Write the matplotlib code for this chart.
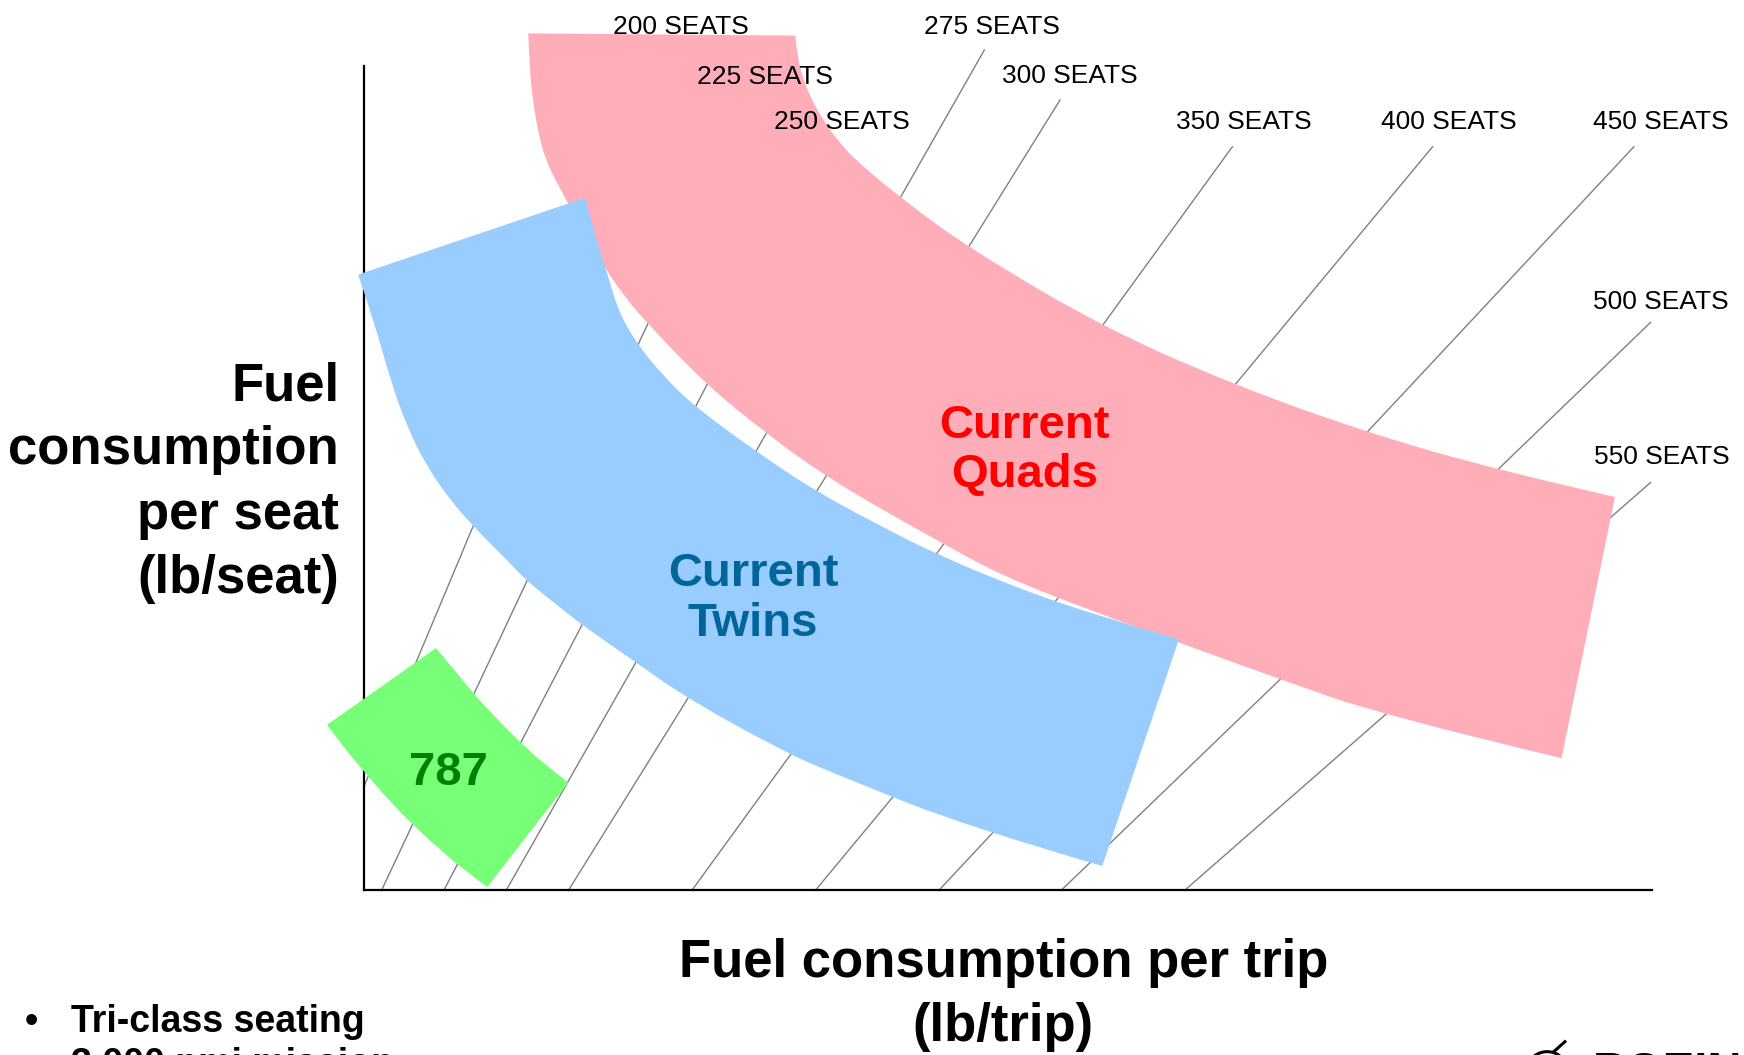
import matplotlib
matplotlib.use("Agg")
import matplotlib.pyplot as plt
from matplotlib.path import Path
from matplotlib.patches import PathPatch, Arc

plt.rcParams['font.family'] = ['Liberation Sans', 'DejaVu Sans']

# chart units: fuel per trip (x) and fuel per seat (y), origin at the axes corner
# seat-count reference lines: start point (on an axis), end point, label position
seat_labels = ['200 SEATS', '225 SEATS', '250 SEATS', '275 SEATS', '300 SEATS',
               '350 SEATS', '400 SEATS', '450 SEATS', '500 SEATS', '550 SEATS']
line_x0 = [0, 16, 72, 128, 184, 295, 406, 517, 627, 738]
line_y0 = [93, 0, 0, 0, 0, 0, 0, 0, 0, 0]
line_x1 = [278, 350, 421, 558, 626, 781, 961, 1142, 1157, 1157]
line_y1 = [756, 711, 671, 756, 711, 669, 669, 669, 511, 367]
label_x = [285, 361, 430, 565, 635, 791, 976, 1166, 1166, 1167]
label_y = [777, 732, 691, 777, 733, 691, 691, 691, 529, 390]

# Current Quads band edges (outer curve, then inner curve from right to left)
quads_outer_x = [388, 390, 395, 403, 413, 426, 442, 484, 544, 664, 782, 902, 1020, 1125]
quads_outer_y = [769, 750, 730, 711, 693, 675, 657, 622, 578, 507, 455, 412, 378, 354]
quads_inner_x = [1077, 918, 821, 733, 653, 572, 521, 476, 416, 362, 308, 255, 233,
                 213, 193, 174, 164, 157, 152, 149, 148]
quads_inner_y = [119, 157, 191, 223, 252, 284, 312, 337, 372, 411, 455, 510, 536,
                 566, 601, 636, 656, 681, 711, 741, 771]

# Current Twins band edges (right curve from top corner, then lower curve right to left)
twins_upper_x = [199, 209, 219, 229, 246, 271, 298, 354, 408, 476, 506, 572, 653, 733]
twins_upper_y = [623, 586, 555, 521, 491, 461, 435, 394, 358, 322, 307, 278, 249, 226]
twins_lower_x = [664, 541, 436, 383, 292, 245, 196, 171, 147, 129, 99, 78, 57, 39, 24, 9, -5]
twins_lower_y = [22, 58, 100, 122, 172, 205, 239, 259, 278, 297, 327, 351, 381, 417, 459, 513, 554]

# 787 patch edges (upper curve left to right, then lower curve right to left)
b787_upper_x = [65, 81, 98, 118, 140, 162, 184]
b787_upper_y = [218, 199, 178, 156, 134, 114, 97]
b787_lower_x = [111, 87, 65, 42, 19, -3, -19, -33]
b787_lower_y = [3, 21, 40, 61, 85, 111, 130, 149]

ylabel_lines = ['Fuel', 'consumption', 'per seat', '(lb/seat)']
ylabel_y = [453, 396, 338, 280]
xlabel_lines = ['Fuel consumption per trip', '(lb/trip)']
xlabel_y = [-65, -123]


def band_path(edges):
    # each edge is a list of points; straight between edges, smooth along an edge
    verts, codes = [edges[0][0]], [Path.MOVETO]
    for pts in edges:
        if len(pts) == 2:
            verts.append(pts[1])
            codes.append(Path.LINETO)
            continue
        for i in range(1, len(pts) - 1):
            nxt = pts[i + 1] if i == len(pts) - 2 else (
                (pts[i][0] + pts[i + 1][0]) / 2, (pts[i][1] + pts[i + 1][1]) / 2)
            verts += [pts[i], nxt]
            codes += [Path.CURVE3, Path.CURVE3]
    verts.append(edges[0][0])
    codes.append(Path.CLOSEPOLY)
    return Path(verts, codes)


fig = plt.figure(figsize=(17.44, 10.55), dpi=100)
ax = fig.add_axes([327 / 1568, 148 / 949, 1158 / 1568, 742 / 949])
ax.set_xlim(0, 1158)
ax.set_ylim(0, 742)
ax.set_xticks([])
ax.set_yticks([])
for s in ['top', 'right']:
    ax.spines[s].set_visible(False)
for s in ['left', 'bottom']:
    ax.spines[s].set_linewidth(1.6)
    ax.spines[s].set_color('black')
    ax.spines[s].set_zorder(1.5)

for i in range(len(seat_labels)):
    ax.plot([line_x0[i], line_x1[i]], [line_y0[i], line_y1[i]], color='#808080',
            lw=1.0, zorder=1, clip_on=False)
    ax.text(label_x[i], label_y[i], seat_labels[i], fontsize=19, ha='center',
            va='center', color='black', zorder=6, clip_on=False)

quads_outer = list(zip(quads_outer_x, quads_outer_y))
quads_inner = list(zip(quads_inner_x, quads_inner_y))
quads = band_path([quads_outer, [quads_outer[-1], quads_inner[0]], quads_inner,
                   [quads_inner[-1], quads_outer[0]]])

twins_upper = list(zip(twins_upper_x, twins_upper_y))
twins_lower = list(zip(twins_lower_x, twins_lower_y))
twins = band_path([[twins_lower[-1], twins_upper[0]], twins_upper,
                   [twins_upper[-1], twins_lower[0]], twins_lower])

b787_upper = list(zip(b787_upper_x, b787_upper_y))
b787_lower = list(zip(b787_lower_x, b787_lower_y))
b787 = band_path([[b787_lower[-1], b787_upper[0]], b787_upper,
                  [b787_upper[-1], b787_lower[0]], b787_lower])

ax.add_patch(PathPatch(quads, facecolor='#FFAEB9', edgecolor='none', zorder=2, clip_on=False))
ax.add_patch(PathPatch(twins, facecolor='#99CCFF', edgecolor='none', zorder=3, clip_on=False))
ax.add_patch(PathPatch(b787, facecolor='#77FF77', edgecolor='none', zorder=4, clip_on=False))

ax.text(594, 396, 'Current\nQuads', fontsize=34, fontweight='bold', color='#FF0000',
        ha='center', va='center', linespacing=1.16, zorder=6)
ax.text(350, 262, 'Current\nTwins', fontsize=34, fontweight='bold', color='#006699',
        ha='center', va='center', linespacing=1.16, zorder=6)
ax.text(76, 106, '787', fontsize=34, fontweight='bold', color='#008000',
        ha='center', va='center', zorder=6)

for txt, yy in zip(ylabel_lines, ylabel_y):
    ax.text(-22, yy, txt, fontsize=38, fontweight='bold', ha='right', va='center',
            clip_on=False)
for txt, yy in zip(xlabel_lines, xlabel_y):
    ax.text(575, yy, txt, fontsize=38, fontweight='bold', ha='center', va='center',
            clip_on=False)

# notes and logo at the bottom edge of the slide
ax.text(-299, -118, '\u2022', fontsize=27, fontweight='bold', ha='center', va='center',
        clip_on=False)
ax.text(-263, -118, 'Tri-class seating', fontsize=27, fontweight='bold', ha='left',
        va='center', clip_on=False)
ax.text(-263, -157, '3,000 nmi mission', fontsize=27, fontweight='bold', ha='left',
        va='center', clip_on=False)
ax.text(1105, -144, 'BOEING', fontsize=34, fontweight='bold', ha='left', va='top',
        clip_on=False)
ax.add_patch(Arc((1064, -160), 34, 30, theta1=20, theta2=175, color='black', lw=2.2,
                 clip_on=False))
ax.plot([1070, 1080], [-145, -136], color='black', lw=2.2, clip_on=False)

fig.savefig('out.png', dpi=100)
